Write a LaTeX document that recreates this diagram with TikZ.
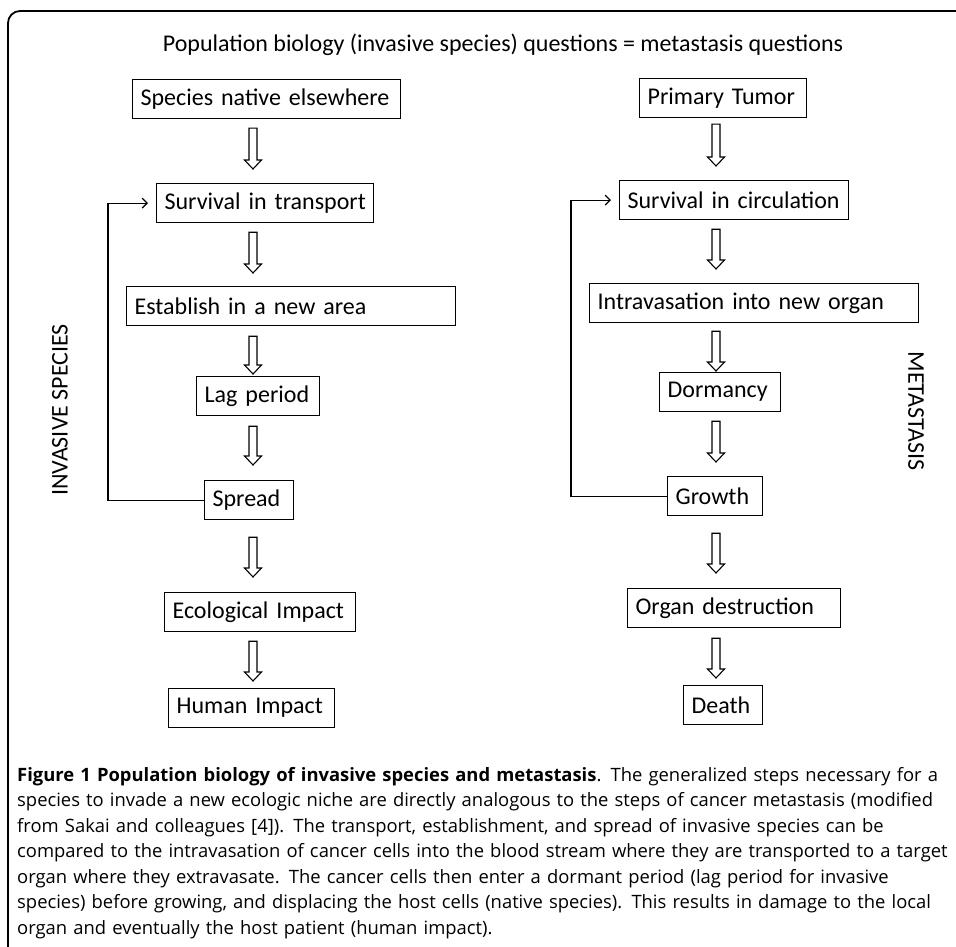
\documentclass[tikz,border=0pt]{standalone}
\usepackage{fontspec}
\setmainfont{Carlito}
\newfontfamily\capfont{Open Sans}
\usetikzlibrary{calc,arrows.meta}

\tikzset{
  stepbox/.style={draw, line width=1.2pt, anchor=north west, minimum height=39pt,
    inner xsep=8pt, inner ysep=0pt, align=left, font=\fontsize{24}{26}\selectfont,
    execute at begin node={\hbox\bgroup}, execute at end node={\egroup}},
  hollow/.style={draw, line width=1.1pt, fill=white,
    to path={let \p1=(\tikztostart), \p2=(\tikztotarget) in
      (\x1-4pt,\y1) -- (\x1-4pt,\y2+9pt) -- (\x1-8.5pt,\y2+9pt) -- (\x2,\y2)
      -- (\x1+8.5pt,\y2+9pt) -- (\x1+4pt,\y2+9pt) -- (\x1+4pt,\y1) -- cycle}},
  back/.style={line width=1.2pt, -{Straight Barb[length=5pt,width=10pt]}},
  side/.style={font=\fontsize{24}{26}\selectfont}
}

\begin{document}
\begin{tikzpicture}[x=1pt, y=-1pt]
  \useasboundingbox (0,0) rectangle (956,947);
  \draw[line width=1.8pt, rounded corners=12pt] (960,11) -| (8,950);

  % Title
  \node[side, anchor=base] (title) at (503,52) {Population biology (invasive species) questions = metastasis questions};

  % Column guides
  \coordinate (lcol) at (253,0);
  \coordinate (rcol) at (716,0);

  % Invasive species
  \node[stepbox, text width=252pt] (sne) at (132,79) {Species native elsewhere};
  \node[stepbox, text width=201pt] (sit) at (156,183) {Survival in transport};
  \node[stepbox, text width=313pt] (est) at (126,286) {Establish in a new area};
  \node[stepbox, text width=107pt] (lag) at (196,376) {Lag period};
  \node[stepbox, text width=73pt] (spr) at (204,480) {Spread};
  \node[stepbox, text width=175pt] (eco) at (164,592) {Ecological Impact};
  \node[stepbox, text width=150pt] (hum) at (168,688) {Human Impact};
  \node[side, rotate=90] (inv) at (60,410) {INVASIVE SPECIES};

  % Metastasis
  \node[stepbox, text width=151pt] (pt) at (639,78) {Primary Tumor};
  \node[stepbox, text width=213pt] (sic) at (619,180) {Survival in circulation};
  \node[stepbox, text width=313pt] (ino) at (589,283) {Intravasation into new organ};
  \node[stepbox, text width=105pt] (dor) at (659,372) {Dormancy};
  \node[stepbox, text width=79pt] (gro) at (667,476) {Growth};
  \node[stepbox, text width=197pt] (ode) at (627,588) {Organ destruction};
  \node[stepbox, text width=63pt] (dea) at (683,685) {Death};
  \node[side, rotate=-90] (met) at (916,411) {METASTASIS};

  % Block arrows
  \draw[hollow] ([yshift=-9pt]sne.south -| lcol) to ([yshift=14pt]sit.north -| lcol);
  \draw[hollow] ([yshift=-9pt]sit.south -| lcol) to ([yshift=13pt]est.north -| lcol);
  \draw[hollow] ([yshift=-10pt]est.south -| lcol) to ([yshift=2pt]lag.north -| lcol);
  \draw[hollow] ([yshift=-10pt]lag.south -| lcol) to ([yshift=15pt]spr.north -| lcol);
  \draw[hollow] ([yshift=-17pt]spr.south -| lcol) to ([yshift=15pt]eco.north -| lcol);
  \draw[hollow] ([yshift=-9pt]eco.south -| lcol) to ([yshift=7pt]hum.north -| lcol);

  \draw[hollow] ([yshift=-6pt]pt.south -| rcol) to ([yshift=14pt]sic.north -| rcol);
  \draw[hollow] ([yshift=-9pt]sic.south -| rcol) to ([yshift=14pt]ino.north -| rcol);
  \draw[hollow] ([yshift=-8pt]ino.south -| rcol) to ([yshift=1pt]dor.north -| rcol);
  \draw[hollow] ([yshift=-9pt]dor.south -| rcol) to ([yshift=14pt]gro.north -| rcol);
  \draw[hollow] ([yshift=-17pt]gro.south -| rcol) to ([yshift=15pt]ode.north -| rcol);
  \draw[hollow] ([yshift=-10pt]ode.south -| rcol) to ([yshift=7pt]dea.north -| rcol);

  % Feedback loops
  \draw[back] (spr.west) -- ++(-96,0) |- ([xshift=-8pt]sit.west);
  \draw[back] (gro.west) -- ++(-96,0) |- ([xshift=-8pt]sic.west);

  % Caption
  \node[anchor=base west, text width=935pt, align=left, inner sep=0pt,
    font=\capfont\fontsize{18.4}{25.5}\selectfont] (cap) at (17,781)
    {\textbf{Figure 1 Population biology of invasive species and metastasis}. The generalized steps necessary for a\\
     species to invade a new ecologic niche are directly analogous to the steps of cancer metastasis (modified\\
     from Sakai and colleagues [4]). The transport, establishment, and spread of invasive species can be\\
     compared to the intravasation of cancer cells into the blood stream where they are transported to a target\\
     organ where they extravasate. The cancer cells then enter a dormant period (lag period for invasive\\
     species) before growing, and displacing the host cells (native species). This results in damage to the local\\
     organ and eventually the host patient (human impact).};
\end{tikzpicture}
\end{document}
